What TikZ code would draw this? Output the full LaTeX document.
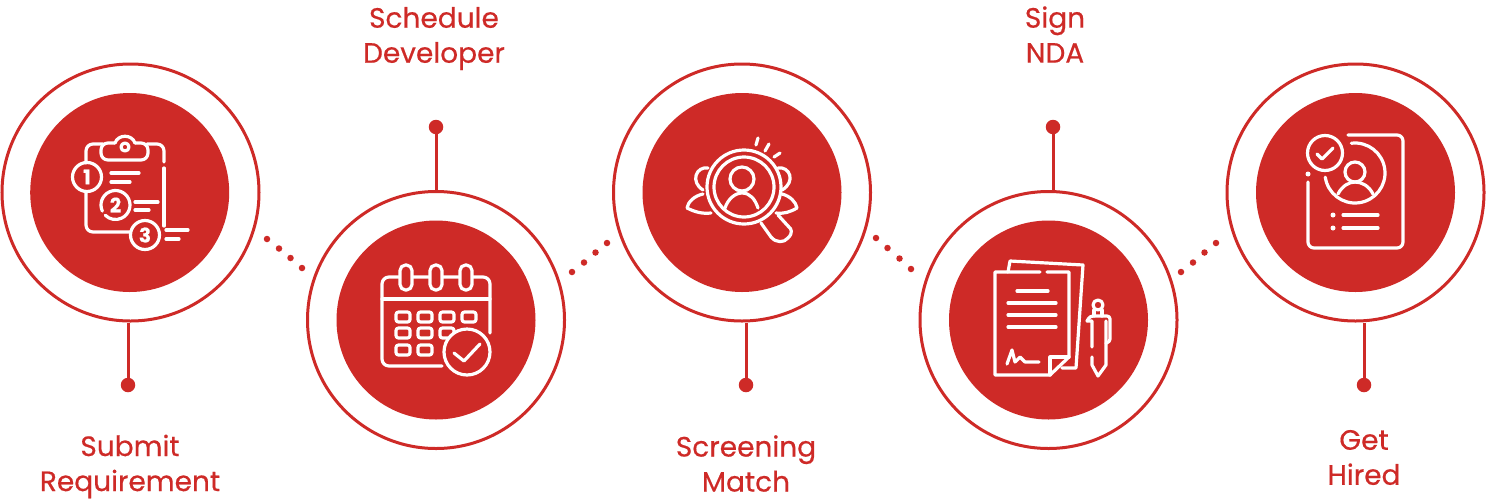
\documentclass[tikz,border=0pt]{standalone}
\usepackage{fontspec}
\setmainfont{Poppins}[RawFeature={embolden=0.5}]
\definecolor{brick}{HTML}{CE2A27}
\tikzset{
 ring/.style={circle,draw=brick,fill=white,line width=3pt,minimum size=257pt,inner sep=0pt},
 disc/.style={circle,fill=brick,minimum size=199pt,inner sep=0pt},
 pin/.style={circle,fill=brick,minimum size=14.5pt,inner sep=0pt},
 speck/.style={circle,fill=brick,minimum size=6.5pt,inner sep=0pt},
 stem/.style={draw=brick,line width=3pt},
 caption/.style={text=brick,align=center,font=\fontsize{28}{35}\selectfont},
 glyph/.style={draw=white,line width=3.2pt,line cap=round,line join=round},
 digit/.style={text=white,inner sep=0pt,font=\fontsize{20}{20}\selectfont\bfseries}
}
\begin{document}
\begin{tikzpicture}[x=1pt,y=-1pt]
 \useasboundingbox (0,0) rectangle (1486,499);

 % steps
 \node[ring] (ring1) at (130.5,192.5) {};
 \node[ring] (ring2) at (436,320) {};
 \node[ring] (ring3) at (742,192.5) {};
 \node[ring] (ring4) at (1048.5,320) {};
 \node[ring] (ring5) at (1355.5,192.5) {};
 \node[disc] (disc1) at (129.7,192.5) {};
 \node[disc] (disc2) at (ring2) {};
 \node[disc] (disc3) at (ring3) {};
 \node[disc] (disc4) at (ring4) {};
 \node[disc] (disc5) at (ring5) {};

 % stems and labels
 \node[pin] (pin1) at (128,385) {};
 \node[pin] (pin2) at (436,127) {};
 \node[pin] (pin3) at (746,385) {};
 \node[pin] (pin4) at (1053,127) {};
 \node[pin] (pin5) at (1364,385) {};
 \path[stem]
 (pin1) edge (pin1 |- ring1.south)
 (pin2) edge (pin2 |- ring2.north)
 (pin3) edge (pin3 |- ring3.south)
 (pin4) edge (pin4 |- ring4.north)
 (pin5) edge (pin5 |- ring5.south);
 \node[caption] (label1) at (130,466.5) {Submit\\Requirement};
 \node[caption] (label2) at (434,38.5) {Schedule\\Developer};
 \node[caption] (label3) at (746,463.5) {Screening\\Match};
 \node[caption] (label4) at (1055,34.5) {Sign\\NDA};
 \node[caption] (label5) at (1364,457.5) {Get\\Hired};

 % dots between the steps
 \foreach \n/\x/\y in {a/267/239,b/279/248.5,c/290.5/258,d/302/268,
  e/572/272,f/584/262.5,g/595.5/252.5,h/607/243,
  i/876/238,j/887.5/248,k/899.5/258.5,l/911/269,
  m/1181/272,n/1193/262.5,o/1204.5/252.5,p/1216/243}
  \node[speck] (speck\n) at (\x,\y) {};

 % clipboard
 \draw[glyph,rounded corners=7pt] (86,163) -- (86,144) -- (103,144);
 \draw[glyph,rounded corners=7pt] (147,144) -- (164,144) -- (164,162);
 \draw[glyph] (164,168) -- (164,226);
 \draw[glyph,rounded corners=7pt] (86,192) -- (86,232) -- (130,232);
 \draw[glyph,rounded corners=7pt] (115,143) -- (101,143) -- (101,160) -- (148,160) -- (148,143) -- (135,143);
 \draw[glyph] (115,143) .. controls (118,134) and (132,134) .. (135,143);
 \draw[glyph] (125,147) circle (4);
 \draw[glyph] (87,177) circle (14.5);
 \draw[glyph] (115.5,205) ++(155:14.5) arc (155:495:14.5);
 \draw[glyph] (145,235) circle (14.5);
 \node[digit] (num1) at (87,177) {1};
 \node[digit] (num2) at (115.5,205) {2};
 \node[digit] (num3) at (145,235) {3};
 \draw[glyph] (111,173) -- (139,173) (111,182) -- (130,182);
 \draw[glyph] (135,202) -- (158,202) (135,210) -- (149,210);
 \draw[glyph] (166,230) -- (188,230) (166,239) -- (179,239);

 % calendar
 \draw[glyph,rounded corners=7pt] (490,333) -- (490,277) -- (382,277) -- (382,366) -- (442,366);
 \draw[glyph] (382,299) -- (490,299);
 \foreach \x in {406,436,466}
  \draw[glyph,fill=brick,rounded corners=5.5pt] (\x-6,265) rectangle (\x+6,290);
 \foreach \x/\y in {403/317,425/317,447/317,469/317,403/333,425/333,447/333,403/350,425/350}
  \draw[glyph,rounded corners=2.5pt] (\x-7,\y-5) rectangle (\x+7,\y+5);
 \draw[glyph,fill=brick] (467,352) circle (23);
 \draw[glyph] (454,353) -- (464,361) -- (480,344);

 % magnifier
 \draw[glyph] (708,168) .. controls (696,166) and (690,182) .. (703,190);
 \draw[glyph] (703,194) .. controls (694,196) and (688,202) .. (687,208) .. controls (695,212) and (702,214) .. (711,213);
 \draw[glyph] (778,168) .. controls (790,166) and (796,182) .. (782,190);
 \draw[glyph] (782,194) .. controls (790,196) and (796,202) .. (797,208) .. controls (790,212) and (784,214) .. (776,213);
 \draw[glyph,fill=brick] (744,187) circle (37);
 \draw[glyph] (744,187) circle (30);
 \draw[glyph] (742,179) circle (12);
 \draw[glyph] (725,208) .. controls (728,199) and (735,193) .. (742,193) .. controls (750,193) and (755,199) .. (758,208);
 \draw[glyph] (761,223) -- (771,237) .. controls (776,243) and (784,243) .. (788,238) .. controls (793,233) and (792,229) .. (788,226) -- (778,215);
 \draw[glyph] (758,138) -- (756,145) (769,144) -- (765,151) (780,153) -- (774,157);

 % contract and pen
 \draw[glyph] (1008,272) -- (1010,261) -- (1083,265) -- (1076,368) -- (1062,368);
 \draw[glyph] (1040,272) -- (995,272) -- (995,375) -- (1050,375) -- (1069,357) -- (1069,272) -- (1047,272);
 \draw[glyph] (1050,375) -- (1050,357) -- (1069,357);
 \draw[glyph] (1017,291) -- (1048,291) (1008,303) -- (1056,303) (1008,315) -- (1056,315) (1008,327) -- (1056,327);
 \draw[glyph] (1007,364) -- (1012,350) -- (1015,362) -- (1020,357) -- (1025,362) -- (1039,362);
 \draw[glyph] (1098,305) circle (5);
 \draw[glyph] (1094,310) -- (1094,316) (1102,310) -- (1102,316);
 \draw[glyph,rounded corners=3pt] (1087,321) -- (1090,316) -- (1110,316) -- (1110,342) -- (1106,343);
 \draw[glyph] (1087,321) -- (1092,321) -- (1092,347) (1106,321) -- (1106,365) -- (1098,376) -- (1092,365) -- (1092,357);

 % profile sheet
 \draw[glyph,rounded corners=6pt] (1348,135) -- (1403,135) -- (1403,248) -- (1308,248) -- (1308,182);
 \fill[white] (1308,174) circle (2.5);
 \draw[glyph] (1325,153) circle (17.5);
 \draw[glyph] (1317,154) -- (1322,159) -- (1333,148);
 \draw[glyph] (1355,173) ++(-97:30) arc (-97:172:30);
 \draw[glyph] (1355,172) circle (10);
 \draw[glyph] (1338,194) .. controls (1342,186) and (1349,182) .. (1355,182) .. controls (1362,182) and (1369,186) .. (1373,194);
 \fill[white] (1333,215) circle (2.5) (1333,228) circle (2.5);
 \draw[glyph] (1343,215) -- (1378,215) (1343,228) -- (1378,228);
\end{tikzpicture}
\end{document}
